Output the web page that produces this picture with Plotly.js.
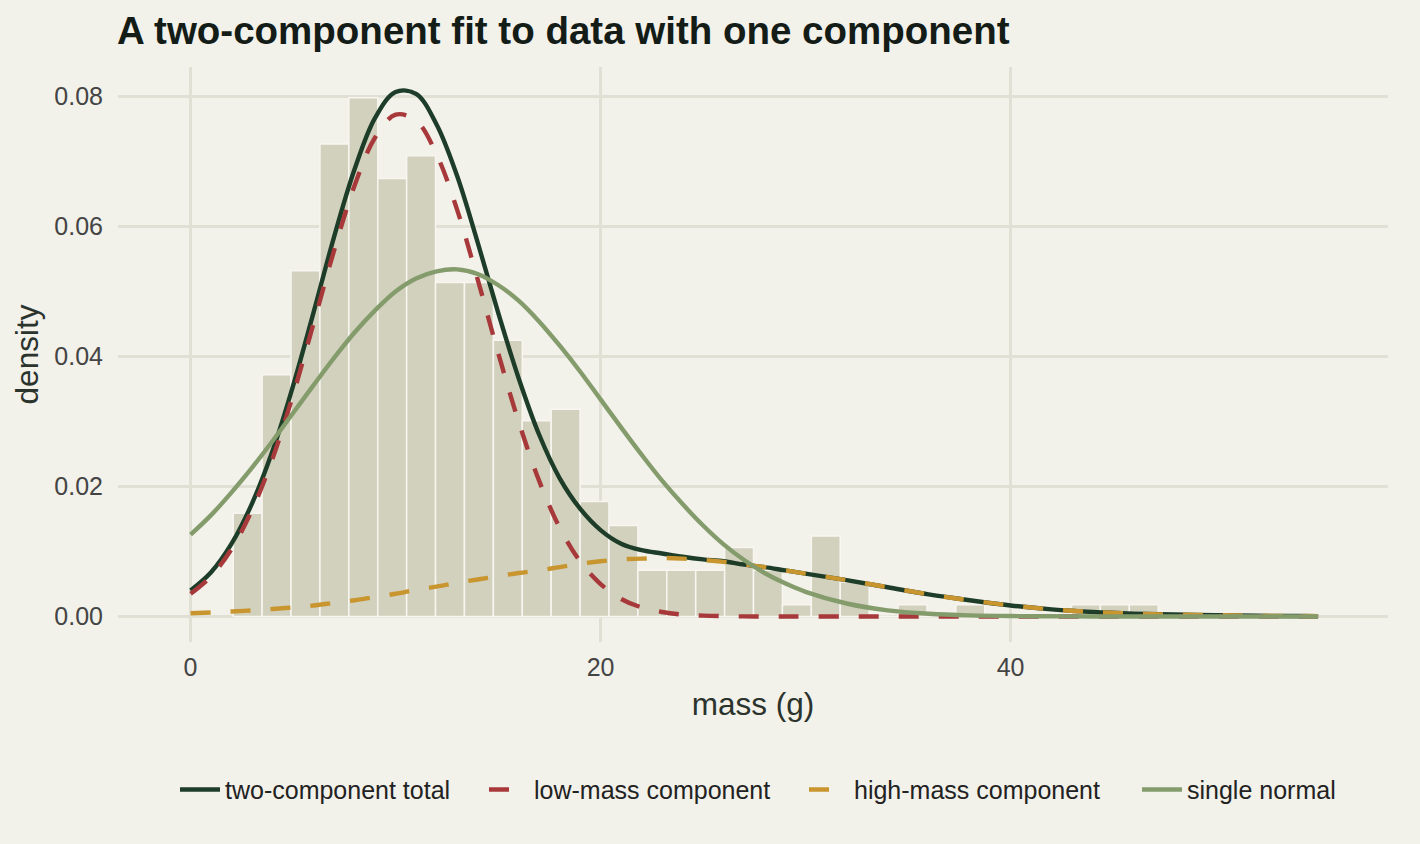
<!DOCTYPE html>
<html>
<head>
<meta charset="utf-8">
<script src="https://cdn.plot.ly/plotly-3.0.1.min.js"></script>
<style>
  html, body { margin: 0; padding: 0; background: #f2f1ea; }
  #chart { width: 1420px; height: 844px; }
</style>
</head>
<body>
<div id="chart"></div>
<script>
// histogram of mass (density per bin), bins start at 2.08 g, 1.41 g wide
const binStart = 2.08;
const binWidth = 1.41;
const binDensity = [
  0.0159, 0.0372, 0.0532, 0.0727, 0.0798, 0.0674, 0.0709, 0.0514,
  0.0514, 0.0425, 0.0301, 0.0319, 0.0177, 0.0140, 0.0071, 0.0071,
  0.0071, 0.0106, 0.0071, 0.0018, 0.0124, 0.0053, 0, 0.0018,
  0, 0.0018, 0, 0, 0, 0.0018, 0.0018, 0.0018,
];

// fitted curves
const massGrid = [
  0, 1, 2, 3, 4, 5, 6, 7, 8, 9, 10, 11, 12, 13, 14, 15, 16, 17, 18, 19, 20,
  21, 22, 23, 24, 25, 26, 27, 28, 29, 30, 32, 34, 36, 38, 40, 42, 44, 46, 48,
  50, 52, 54, 55,
];
const totalFit = [
  0.0040, 0.0068, 0.0112, 0.0174, 0.0255, 0.0355, 0.0468, 0.0584, 0.0688, 0.0767, 0.0807,
  0.0804, 0.0757, 0.0678, 0.0576, 0.0468, 0.0367, 0.0280, 0.0213, 0.0166, 0.0133,
  0.0112, 0.0102, 0.0097, 0.0092, 0.0088, 0.0085, 0.0080, 0.0076, 0.0071, 0.0066,
  0.0056, 0.0045, 0.0034, 0.0025, 0.0017, 0.0011, 0.0007, 0.00045, 0.0003,
  0.0002, 0.00012, 0.00008, 0.00006,
];
const lowMass = [
  0.0035, 0.0062, 0.0104, 0.0164, 0.0243, 0.0341, 0.0451, 0.0563, 0.0663, 0.0737, 0.0772,
  0.0763, 0.0711, 0.0626, 0.0519, 0.0406, 0.0300, 0.0209, 0.0137, 0.0085, 0.0050,
  0.0027, 0.0014, 0.0007, 0.0003, 0.00014, 0.00006, 0.00002, 0, 0, 0,
  0, 0, 0, 0, 0, 0, 0, 0, 0,
  0, 0, 0, 0,
];
const highMass = [
  0.0005, 0.00062, 0.00077, 0.00095, 0.00116, 0.0014, 0.0017, 0.0021, 0.0025, 0.0030, 0.0035,
  0.0041, 0.0046, 0.0052, 0.0057, 0.0062, 0.0067, 0.0071, 0.0076, 0.0081, 0.0085,
  0.0088, 0.0089, 0.0090, 0.0089, 0.0087, 0.0084, 0.0080, 0.0076, 0.0071, 0.0066,
  0.0056, 0.0045, 0.0034, 0.0025, 0.0017, 0.0011, 0.0007, 0.00045, 0.0003,
  0.0002, 0.00012, 0.00008, 0.00006,
];
const singleNormal = [
  0.0126, 0.0156, 0.0191, 0.0229, 0.0270, 0.0313, 0.0356, 0.0398, 0.0437, 0.0471, 0.0500,
  0.0520, 0.0531, 0.0534, 0.0527, 0.0510, 0.0486, 0.0454, 0.0417, 0.0377, 0.0334,
  0.0291, 0.0249, 0.0209, 0.0173, 0.0140, 0.0111, 0.0087, 0.0067, 0.0051, 0.0038,
  0.0020, 0.00095, 0.00043, 0.00018, 0.00007, 0.00003, 0.00001, 0, 0,
  0, 0, 0, 0,
];

const seriesNames = ['two-component total', 'low-mass component', 'high-mass component', 'single normal'];

const BG = '#f2f1ea';
const GRID = '#e1e0d5';
const FONT = 'Liberation Sans, Arial, Helvetica, sans-serif';

const binCenters = binDensity.map((_, i) => binStart + binWidth * (i + 0.5));

const lineStyle = [
  { color: '#1d3d29', width: 4.4 },
  { color: '#a8393b', width: 4.4, dash: '20px,20px' },
  { color: '#c8952f', width: 4.4, dash: '20px,20px' },
  { color: '#849c6c', width: 4.4 },
];

// one legend box per series so each key sits where the reference puts it
const legendIds = ['legend', 'legend2', 'legend3', 'legend4'];
const legendLeftPx = [175, 484, 804, 1137];

const curves = [totalFit, lowMass, highMass, singleNormal].map((y, i) => ({
  type: 'scatter',
  mode: 'lines',
  name: seriesNames[i],
  x: massGrid,
  y,
  line: { ...lineStyle[i], shape: 'spline', smoothing: 1 },
  legend: legendIds[i],
  hoverinfo: 'skip',
}));

const bars = {
  type: 'bar',
  x: binCenters,
  y: binDensity,
  width: binWidth,
  marker: { color: '#d2d1bd', line: { color: '#f7f6f1', width: 1.5 } },
  showlegend: false,
  hoverinfo: 'skip',
};

const layout = {
  width: 1420,
  height: 844,
  paper_bgcolor: BG,
  plot_bgcolor: BG,
  margin: { l: 118, r: 32, t: 67, b: 202 },
  font: { family: FONT, color: '#3b3b3b' },
  title: {
    text: 'A two-component fit to data with one component',
    font: { family: FONT, size: 38.5, weight: 'bold', color: '#141c17' },
    xref: 'container',
    x: 117 / 1420,
    xanchor: 'left',
    yref: 'container',
    y: 1 - 31 / 844,
    yanchor: 'middle',
  },
  bargap: 0,
  xaxis: {
    range: [-3.54, 58.41],
    tickvals: [0, 20, 40],
    ticktext: ['0', '20', '40'],
    showgrid: true,
    gridcolor: GRID,
    gridwidth: 2.5,
    zeroline: false,
    showline: false,
    ticks: '',
    ticklabelstandoff: 8,
    tickfont: { family: FONT, size: 25, color: '#444444' },
    title: { text: 'mass (g)', font: { family: FONT, size: 31.5, color: '#2b332d' }, standoff: 12 },
    fixedrange: true,
  },
  yaxis: {
    range: [-0.00392, 0.08454],
    tickvals: [0, 0.02, 0.04, 0.06, 0.08],
    ticktext: ['0.00', '0.02', '0.04', '0.06', '0.08'],
    showgrid: true,
    gridcolor: GRID,
    gridwidth: 2.5,
    zeroline: false,
    showline: false,
    ticks: '',
    ticklabelstandoff: 14,
    tickfont: { family: FONT, size: 25, color: '#444444' },
    title: { text: 'density', font: { family: FONT, size: 31.5, color: '#2b332d' }, standoff: 6 },
    fixedrange: true,
  },
  showlegend: true,
};

legendIds.forEach((id, i) => {
  layout[id] = {
    orientation: 'h',
    x: (legendLeftPx[i] - 118) / 1270,
    xanchor: 'left',
    y: -0.257,
    yanchor: 'middle',
    font: { family: FONT, size: 25, color: '#222222' },
    bgcolor: 'rgba(0,0,0,0)',
    itemwidth: 40,
  };
});

Plotly.newPlot('chart', [bars, ...curves], layout, { displayModeBar: false, staticPlot: true });
</script>
</body>
</html>
